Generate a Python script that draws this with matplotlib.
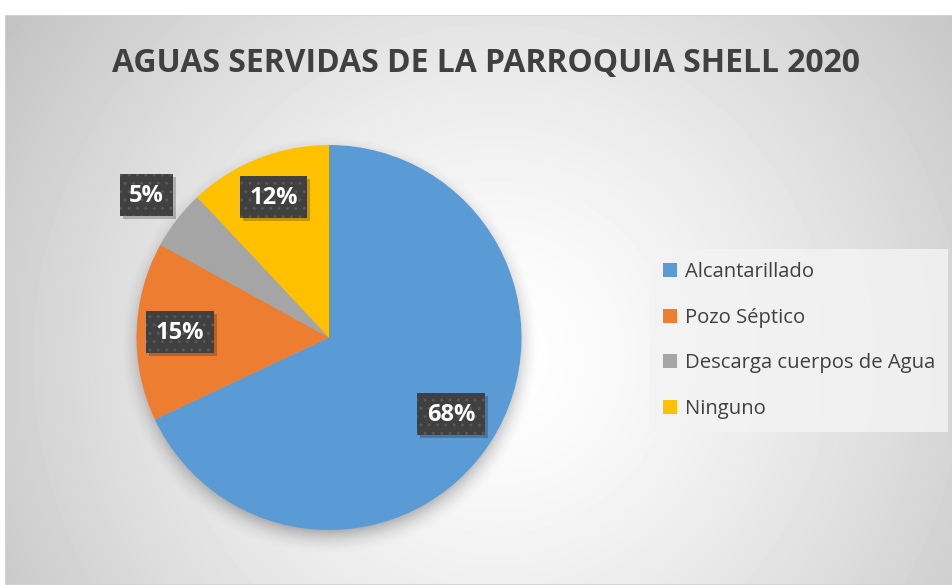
import numpy as np
import matplotlib
matplotlib.use("Agg")
import matplotlib.pyplot as plt
from matplotlib.patches import Rectangle
from matplotlib.transforms import IdentityTransform

# ---- data ----
title = "AGUAS SERVIDAS DE LA PARROQUIA SHELL 2020"
categories = ["Alcantarillado", "Pozo Séptico", "Descarga cuerpos de Agua", "Ninguno"]
values = [68, 15, 5, 12]
colors = ["#5B9BD5", "#ED7D31", "#A5A5A5", "#FFC000"]

# layout (label distance from centre, in radii)
label_dist = [0.75, 0.775, 1.2, 0.78]

W, H = 953, 585
fig = plt.figure(figsize=(W / 100, H / 100), dpi=100, facecolor="white")

# ---- chart-area background with radial gradient ----
fx0, fy0, fw, fh = 5, 0, 948, 570
bg = fig.add_axes([fx0 / W, fy0 / H, fw / W, fh / H])
bg.set_axis_off()
yy, xx = np.mgrid[0:fh, 0:fw]
cx, cy = fw * 0.52, fh * 0.6
r = np.hypot(xx - cx, yy - cy) / np.hypot(fw * 0.52, fh * 0.6)
g = 1.0 - 0.24 * np.clip(r, 0, 1.2) ** 1.4
bg.imshow(g, cmap="gray", vmin=0, vmax=1, extent=(0, 1, 0, 1), aspect="auto",
          interpolation="bilinear", origin="upper")
bg.set_xlim(0, 1)
bg.set_ylim(0, 1)
bg.add_patch(Rectangle((0, 0), 1, 1, transform=bg.transAxes, fill=False,
                       edgecolor="#d4d4d4", linewidth=1.2))

# ---- pie ----
pcx, pcy, R = 329, 337.5, 192.5
ax = fig.add_axes([(pcx - R) / W, (H - pcy - R) / H, 2 * R / W, 2 * R / H])
# soft blurred shadow
ext = 1.3
sg = np.linspace(-ext, ext, 400)
SX, SY = np.meshgrid(sg, sg[::-1])
dist = np.hypot(SX - 0.0, SY + 0.04)
sa = 0.28 * np.clip((1.10 - dist) / 0.14, 0, 1) ** 2
shadow = np.zeros((400, 400, 4))
shadow[..., 3] = sa
im = ax.imshow(shadow, extent=(-ext, ext, -ext, ext), zorder=0,
               interpolation="bilinear")
im.set_clip_on(False)
wedges, _ = ax.pie(values, colors=colors, startangle=90, counterclock=False,
                   radius=1, wedgeprops=dict(linewidth=0, zorder=2))
ax.set_xlim(-1, 1)
ax.set_ylim(-1, 1)
ax.set_aspect("auto")

total = float(sum(values))
cum = 0.0
labels = []
for v, d in zip(values, label_dist):
    ang = np.deg2rad(90 - 360 * (cum + v / 2) / total)
    cum += v
    x, y = d * np.cos(ang), d * np.sin(ang)
    t = ax.text(x, y, f"{v}%", ha="center", va="center",
                fontsize=17, fontweight="bold", color="white", family="Open Sans",
                zorder=6)
    labels.append(t)

# ---- title ----
tt = fig.text(486 / W, 1 - 72 / H, title, ha="center", va="baseline",
              fontsize=28, fontweight="bold", color="#404040", family="Open Sans")
fig.canvas.draw()
w = tt.get_window_extent().width
tt.set_fontsize(28 * 746 / w)

# label boxes (built around the measured text extents)
renderer = fig.canvas.get_renderer()
for t in labels:
    bb = t.get_window_extent(renderer)
    cxp = (bb.x0 + bb.x1) / 2
    cyp = (bb.y0 + bb.y1) / 2 + 1
    bw = bb.width + 19
    bh = 42
    sh = Rectangle((cxp - bw / 2 + 3, cyp - bh / 2 - 3), bw, bh,
                   transform=IdentityTransform(), facecolor="black",
                   alpha=0.22, edgecolor="none", zorder=4, clip_on=False)
    bx = Rectangle((cxp - bw / 2, cyp - bh / 2), bw, bh,
                   transform=IdentityTransform(), facecolor="#404040",
                   edgecolor="#575757", linewidth=0, hatch="..",
                   zorder=5, clip_on=False)
    ax.add_patch(sh)
    ax.add_patch(bx)

# ---- legend ----
leg = fig.legend(wedges, categories, loc="upper left",
                 bbox_to_anchor=(650 / W, 1 - 249 / H), borderaxespad=0,
                 frameon=True, fancybox=False, facecolor="#f3f3f3", edgecolor="none",
                 framealpha=0.85, prop=dict(family="Open Sans", size=14.6),
                 labelcolor="#404040", handlelength=0.67, handleheight=0.67,
                 handletextpad=0.4, labelspacing=1.26, borderpad=0.65)

fig.savefig("out.png", dpi=100, facecolor="white")
